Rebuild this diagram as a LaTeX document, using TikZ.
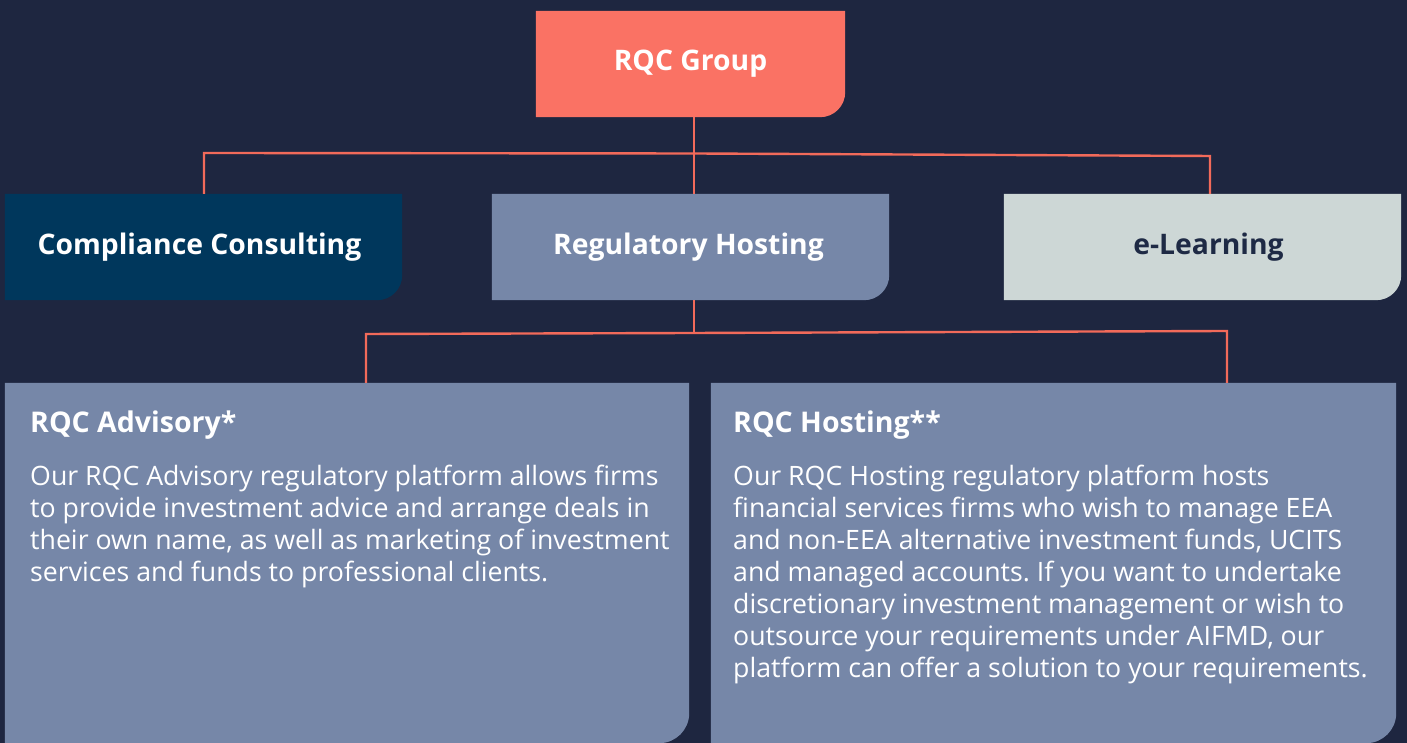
\documentclass[tikz,border=0pt]{standalone}
\usepackage{fontspec}
\setmainfont{Open Sans}
\usetikzlibrary{backgrounds}
\frenchspacing
\definecolor{bgc}{HTML}{1E2640}
\definecolor{coral}{HTML}{FA7264}
\definecolor{linec}{HTML}{F26A5A}
\definecolor{navy}{HTML}{00375C}
\definecolor{slate}{HTML}{7687A8}
\definecolor{pale}{HTML}{CDD7D6}
\definecolor{darktxt}{HTML}{1E2A45}
\tikzset{
  box/.style={inner sep=0pt, minimum height=106pt, minimum width=397pt, font=\fontsize{28.3}{34}\selectfont\bfseries, text=white},
  bigbox/.style={inner sep=0pt, minimum height=360pt, minimum width=684pt},
  conn/.style={draw=linec, line width=2.4pt},
  head/.style={anchor=base west, inner sep=0pt, text=white, font=\fontsize{28.5}{34}\selectfont\bfseries},
  body/.style={anchor=north west, inner sep=0pt, text=white, align=left, font=\fontsize{26.7}{32}\selectfont},
}
\newcommand{\brbox}[3]{% node, colour, radius
  \fill[#2] (#1.north west) -- (#1.north east) -- ([yshift=#3]#1.south east)
    arc[start angle=0, end angle=-90, radius=#3] -- (#1.south west) -- cycle;}
\begin{document}
\begin{tikzpicture}[x=1pt,y=1pt]
\useasboundingbox (0,0) rectangle (1407,743);
% nodes
\node[box, minimum width=309pt] (grp) at (690.5,679) {RQC Group};
\node[box] (cc) at (203.5,496) {\hspace*{-8pt}Compliance Consulting};
\node[box] (rh) at (690.5,496) {\hspace*{-4pt}Regulatory Hosting};
\node[box, text=darktxt] (el) at (1202.5,496) {\hspace*{12pt}e-Learning};
\node[bigbox] (adv) at (347,180) {};
\node[bigbox, minimum width=685pt] (hos) at (1053.5,180) {};
\node[head] (advh) at (30,310) {RQC Advisory*};
\node[body] (advb) at (30,278) {Our RQC Advisory regulatory platform allows firms\\to provide investment advice and arrange deals in\\their own name, as well as marketing of investment\\services and funds to professional clients.};
\node[head] (hosh) at (733,310) {RQC Hosting**};
\node[body] (hosb) at (733,278) {Our RQC Hosting regulatory platform hosts\\financial services firms who wish to manage EEA\\and non-EEA alternative investment funds, UCITS\\and managed accounts. If you want to undertake\\discretionary investment management or wish to\\outsource your requirements under AIFMD, our\\platform can offer a solution to your requirements.};
\begin{scope}[on background layer]
  \fill[bgc] (0,0) rectangle (1407,743);
  \brbox{grp}{coral}{25pt}
  \brbox{cc}{navy}{25pt}
  \brbox{rh}{slate}{25pt}
  \brbox{el}{pale}{25pt}
  \brbox{adv}{slate}{30pt}
  \brbox{hos}{slate}{30pt}
  % connectors
  \coordinate (b1) at (694,589.5);
  \coordinate (b1l) at (204,590);
  \coordinate (b1r) at (1210,587);
  \draw[conn] ([xshift=3.5pt]grp.south) -- (b1);
  \draw[conn] (cc.north -| b1l) -- (b1l) -- (b1) -- (b1r) -- (el.north -| b1r);
  \draw[conn] (b1) -- ([xshift=3.5pt]rh.north);
  \coordinate (b2) at (694,410);
  \coordinate (b2l) at (366,409);
  \coordinate (b2r) at (1227,412);
  \draw[conn] ([xshift=3.5pt]rh.south) -- (b2);
  \draw[conn] (adv.north -| b2l) -- (b2l) -- (b2) -- (b2r) -- (hos.north -| b2r);
\end{scope}
\end{tikzpicture}
\end{document}
